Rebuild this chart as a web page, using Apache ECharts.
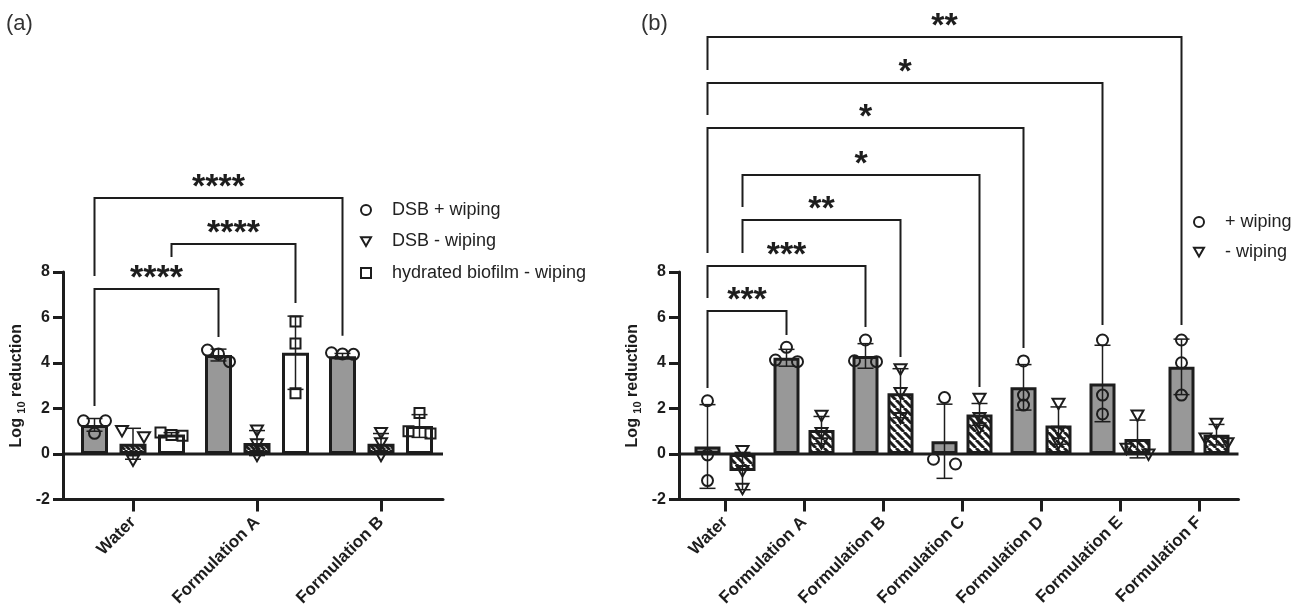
<!DOCTYPE html>
<html>
<head>
<meta charset="utf-8">
<script src="https://cdn.jsdelivr.net/npm/echarts@6/dist/echarts.min.js"></script>
<style>
html, body { margin: 0; padding: 0; background: #fff; }
#chart { width: 1303px; height: 611px; }
</style>
</head>
<body>
<div id="chart"></div>
<script>
// ---------- panel (a) ----------
var catsA = ['Water', 'Formulation A', 'Formulation B'];
var dsbPlusMeanA = [1.28, 4.35, 4.30];
var dsbPlusSdA = [0.28, 0.26, 0.12];
var dsbPlusPtsA = [[1.46, 1.46, 0.91], [4.57, 4.06, 4.40], [4.45, 4.40, 4.38]];
var dsbMinusMeanA = [0.45, 0.48, 0.45];
var dsbMinusSdA = [0.68, 0.55, 0.45];
var dsbMinusPtsA = [[1.03, 0.76, -0.26], [1.05, 0.45, -0.05], [0.95, 0.50, -0.05]];
var hydMeanA = [0.86, 4.45, 1.23];
var hydSdA = [0.08, 1.61, 0.50];
var hydPtsA = [[0.84, 0.95, 0.80], [5.82, 4.86, 2.67], [1.80, 1.00, 0.90]];
// [fromCat, fromGroup, toCat, toGroup, level, left leg end, right leg end]
var bracketsA = [
  [0, 0, 1, 0, 7.25, 2.11, 5.14],
  [0, 2, 1, 2, 9.23, 8.66, 6.64],
  [0, 0, 2, 0, 11.25, 7.82, 5.20]
];
var starsA = ['****', '****', '****'];

// ---------- panel (b) ----------
var catsB = ['Water', 'Formulation A', 'Formulation B', 'Formulation C', 'Formulation D', 'Formulation E', 'Formulation F'];
var plusMeanB = [0.33, 4.23, 4.31, 0.56, 2.93, 3.10, 3.83];
var plusSdB = [1.84, 0.37, 0.54, 1.63, 1.00, 1.68, 1.22];
var plusPtsB = [[2.34, -0.04, -1.17], [4.69, 4.06, 4.13], [5.01, 4.06, 4.10], [2.48, -0.44, -0.23],
                [4.09, 2.59, 2.15], [5.01, 2.59, 1.76], [5.01, 4.01, 2.59]];
var minusMeanB = [-0.75, 1.05, 2.67, 1.74, 1.25, 0.66, 0.85];
var minusSdB = [0.82, 0.60, 1.08, 0.48, 0.82, 0.83, 0.45];
var minusPtsB = [[0.15, -0.73, -1.51], [1.70, 0.95, 0.50], [3.75, 2.70, 1.60], [2.45, 1.60, 1.15],
                 [2.23, 1.00, 0.50], [1.71, 0.25, 0.00], [1.35, 0.70, 0.50]];
var bracketsB = [
  [0, 0, 1, 0, 6.29, 2.90, 5.23],
  [0, 0, 2, 0, 8.26, 6.86, 5.58],
  [0, 1, 2, 1, 10.29, 8.84, 4.26],
  [0, 1, 3, 1, 12.26, 10.86, 2.95],
  [0, 0, 4, 0, 14.33, 8.84, 4.66],
  [0, 0, 5, 0, 16.31, 14.90, 5.67],
  [0, 0, 6, 0, 18.33, 16.88, 5.67]
];
var starsB = ['***', '***', '**', '*', '*', '*', '**'];

var INK = '#1d1d1d';
var GRAY = '#989898';
var FONT = '"Liberation Sans", Arial, Helvetica, sans-serif';

// bar layout per panel: rect width, centre-to-centre pitch, y axis extension to the left
var LA = { barW: 27, pitch: 38.5, n: 3, ext: 8 };
var LB = { barW: 26, pitch: 35, n: 2, ext: 6.5 };

function gapPct(L) { return ((L.pitch - L.barW) / L.barW * 100) + '%'; }
function offsetOf(s, L) { return (s - (L.n - 1) / 2) * L.pitch; }

function hatch(size, lw, bg) {
  var c = document.createElement('canvas');
  c.width = size; c.height = size;
  var ctx = c.getContext('2d');
  ctx.fillStyle = bg; ctx.fillRect(0, 0, size, size);
  ctx.strokeStyle = INK; ctx.lineWidth = lw;
  ctx.beginPath();
  for (var k = -1; k <= 1; k++) {
    ctx.moveTo(k * size, 0);
    ctx.lineTo(k * size + size, size);
  }
  ctx.stroke();
  return c;
}

function barSeries(g, L, data, fill) {
  return {
    type: 'bar', xAxisIndex: g, yAxisIndex: g, data: data, silent: true, z: 2,
    barWidth: L.barW, barGap: gapPct(L),
    itemStyle: { color: fill, borderColor: INK, borderWidth: 3 }
  };
}

function errorSeries(g, L, s, means, sds) {
  return {
    type: 'custom', xAxisIndex: g, yAxisIndex: g, silent: true, z: 5,
    data: means.map(function (m, i) { return [i, m, sds[i]]; }),
    renderItem: function (params, api) {
      var cat = api.value(0), m = api.value(1), sd = api.value(2);
      var x = api.coord([cat, m])[0] + offsetOf(s, L);
      var yT = api.coord([cat, m + sd])[1], yB = api.coord([cat, m - sd])[1];
      var st = { stroke: INK, lineWidth: 1.5 };
      return { type: 'group', children: [
        { type: 'line', shape: { x1: x, y1: yT, x2: x, y2: yB }, style: st },
        { type: 'line', shape: { x1: x - 8, y1: yT, x2: x + 8, y2: yT }, style: st },
        { type: 'line', shape: { x1: x - 8, y1: yB, x2: x + 8, y2: yB }, style: st }
      ] };
    }
  };
}

function markerShape(kind, x, y) {
  var st = { fill: 'none', stroke: INK, lineWidth: 2 };
  if (kind === 'circle') return { type: 'circle', shape: { cx: x, cy: y, r: 5.5 }, style: st };
  if (kind === 'tri') return { type: 'polygon', shape: { points: [[x - 6, y - 4.5], [x + 6, y - 4.5], [x, y + 6]] }, style: st };
  return { type: 'rect', shape: { x: x - 5, y: y - 5, width: 10, height: 10 }, style: st };
}

function pointSeries(name, g, L, s, pts, kind) {
  return {
    type: 'custom', name: name, xAxisIndex: g, yAxisIndex: g, silent: true, z: 6,
    data: pts.map(function (p, i) { return [i].concat(p); }),
    renderItem: function (params, api) {
      var cat = api.value(0);
      var x = api.coord([cat, 0])[0] + offsetOf(s, L);
      var ps = [1, 2, 3].map(function (d) { return { y: api.coord([cat, api.value(d)])[1] }; });
      ps.sort(function (a, b) { return a.y - b.y; });
      // spread points that sit on top of each other
      var clusters = [[ps[0]]];
      for (var i = 1; i < ps.length; i++) {
        var cl = clusters[clusters.length - 1];
        if (ps[i].y - cl[cl.length - 1].y < 8) cl.push(ps[i]); else clusters.push([ps[i]]);
      }
      var kids = [];
      clusters.forEach(function (cl) {
        var slots = cl.length === 1 ? [0] : cl.length === 2 ? [-11, 11] : [-11, 0, 11];
        cl.forEach(function (p, j) { kids.push(markerShape(kind, x + slots[j], p.y)); });
      });
      return { type: 'group', children: kids };
    }
  };
}

function bracketSeries(g, L, brackets, stars) {
  return {
    type: 'custom', xAxisIndex: g, yAxisIndex: g, silent: true, z: 7, clip: false,
    data: brackets,
    renderItem: function (params, api) {
      var b = brackets[params.dataIndex];
      var x1 = api.coord([b[0], 0])[0] + offsetOf(b[1], L);
      var x2 = api.coord([b[2], 0])[0] + offsetOf(b[3], L);
      var yL = api.coord([0, b[4]])[1];
      var y1 = api.coord([0, b[5]])[1];
      var y2 = api.coord([0, b[6]])[1];
      return { type: 'group', children: [
        { type: 'polyline', shape: { points: [[x1, y1], [x1, yL], [x2, yL], [x2, y2]] },
          style: { stroke: INK, lineWidth: 2, fill: 'none' } },
        { type: 'text', x: (x1 + x2) / 2, y: yL + 7,
          style: { text: stars[params.dataIndex], fill: INK, font: 'bold 34px ' + FONT,
                   align: 'center', verticalAlign: 'bottom' } }
      ] };
    }
  };
}

function frameSeries(g, L) {
  return {
    type: 'custom', xAxisIndex: g, yAxisIndex: g, silent: true, z: 4, clip: false,
    data: [[0, 0]],
    renderItem: function (params, api) {
      var cs = params.coordSys;
      var y0 = api.coord([0, 0])[1];
      var yb = cs.y + cs.height;
      var st = { stroke: INK, lineWidth: 3 };
      return { type: 'group', children: [
        { type: 'line', shape: { x1: cs.x - L.ext, y1: y0, x2: cs.x + cs.width, y2: y0 }, style: st },
        { type: 'line', shape: { x1: cs.x - L.ext - 1.5, y1: yb, x2: cs.x + 1, y2: yb }, style: st }
      ] };
    }
  };
}

function xAxisOf(g, cats) {
  return {
    gridIndex: g, type: 'category', data: cats,
    axisLine: { show: true, onZero: false, lineStyle: { color: INK, width: 3 } },
    axisTick: { show: true, alignWithLabel: true, length: 12, lineStyle: { color: INK, width: 3 } },
    axisLabel: { interval: 0, rotate: 45, fontSize: 17, fontWeight: 'bold', color: INK, margin: 20, fontFamily: FONT },
    splitLine: { show: false }
  };
}

function yAxisOf(g, L) {
  return {
    gridIndex: g, type: 'value', min: -2, max: 8, interval: 2, offset: L.ext,
    axisLine: { show: true, lineStyle: { color: INK, width: 3 } },
    axisTick: { show: true, length: 10, lineStyle: { color: INK, width: 3 } },
    axisLabel: { fontSize: 16, fontWeight: 'bold', color: INK, margin: 13, fontFamily: FONT },
    splitLine: { show: false },
    name: '{a|Log }{s|10}{a| reduction}', nameLocation: 'middle', nameGap: 36, nameRotate: 90,
    nameTextStyle: {
      rich: {
        a: { fontSize: 16, fontWeight: 'bold', color: INK, fontFamily: FONT, lineHeight: 20 },
        s: { fontSize: 11, fontWeight: 'bold', color: INK, fontFamily: FONT, lineHeight: 12, verticalAlign: 'bottom' }
      }
    }
  };
}

var triIcon = 'path://M0,0 L12,0 L6,10.5 Z';
var sqIcon = 'path://M0,0 L10,0 L10,10 L0,10 Z';
var legendStyle = { color: '#fff', borderColor: INK, borderWidth: 2 };

var chart = echarts.init(document.getElementById('chart'), null, { renderer: 'canvas' });
chart.setOption({
  animation: false,
  backgroundColor: '#fff',
  textStyle: { fontFamily: FONT },
  title: [
    { text: '(a)', left: 1, top: 8, textStyle: { fontSize: 22, fontWeight: 'normal', color: '#333', fontFamily: FONT } },
    { text: '(b)', left: 636, top: 8, textStyle: { fontSize: 22, fontWeight: 'normal', color: '#333', fontFamily: FONT } }
  ],
  legend: [
    {
      orient: 'vertical', left: 360, top: 200, padding: 0, itemWidth: 10, itemHeight: 10, itemGap: 11.5,
      selectedMode: false, textStyle: { fontSize: 18, color: '#222', fontFamily: FONT, lineHeight: 20, padding: [0, 0, 0, 16] },
      data: [
        { name: 'DSB + wiping', icon: 'circle', itemStyle: legendStyle },
        { name: 'DSB - wiping', icon: triIcon, itemStyle: legendStyle },
        { name: 'hydrated biofilm - wiping', icon: sqIcon, itemStyle: legendStyle }
      ]
    },
    {
      orient: 'vertical', left: 1193, top: 212, padding: 0, itemWidth: 10, itemHeight: 10, itemGap: 10,
      selectedMode: false, textStyle: { fontSize: 18, color: '#222', fontFamily: FONT, lineHeight: 20, padding: [0, 0, 0, 16] },
      data: [
        { name: '+ wiping', icon: 'circle', itemStyle: legendStyle },
        { name: '- wiping', icon: triIcon, itemStyle: legendStyle }
      ]
    }
  ],
  grid: [
    { left: 71, top: 272, width: 372, height: 227.5, containLabel: false, outerBoundsMode: 'none' },
    { left: 685.5, top: 272, width: 553, height: 227.5, containLabel: false, outerBoundsMode: 'none' }
  ],
  xAxis: [xAxisOf(0, catsA), xAxisOf(1, catsB)],
  yAxis: [yAxisOf(0, LA), yAxisOf(1, LB)],
  series: [
    barSeries(0, LA, dsbPlusMeanA, GRAY),
    barSeries(0, LA, dsbMinusMeanA, { image: hatch(5, 3, '#ffffff'), repeat: 'repeat' }),
    barSeries(0, LA, hydMeanA, '#ffffff'),
    frameSeries(0, LA),
    errorSeries(0, LA, 0, dsbPlusMeanA, dsbPlusSdA),
    errorSeries(0, LA, 1, dsbMinusMeanA, dsbMinusSdA),
    errorSeries(0, LA, 2, hydMeanA, hydSdA),
    pointSeries('DSB + wiping', 0, LA, 0, dsbPlusPtsA, 'circle'),
    pointSeries('DSB - wiping', 0, LA, 1, dsbMinusPtsA, 'tri'),
    pointSeries('hydrated biofilm - wiping', 0, LA, 2, hydPtsA, 'square'),
    bracketSeries(0, LA, bracketsA, starsA),

    barSeries(1, LB, plusMeanB, GRAY),
    barSeries(1, LB, minusMeanB, { image: hatch(8, 3, '#ffffff'), repeat: 'repeat' }),
    frameSeries(1, LB),
    errorSeries(1, LB, 0, plusMeanB, plusSdB),
    errorSeries(1, LB, 1, minusMeanB, minusSdB),
    pointSeries('+ wiping', 1, LB, 0, plusPtsB, 'circle'),
    pointSeries('- wiping', 1, LB, 1, minusPtsB, 'tri'),
    bracketSeries(1, LB, bracketsB, starsB)
  ]
});
</script>
</body>
</html>
